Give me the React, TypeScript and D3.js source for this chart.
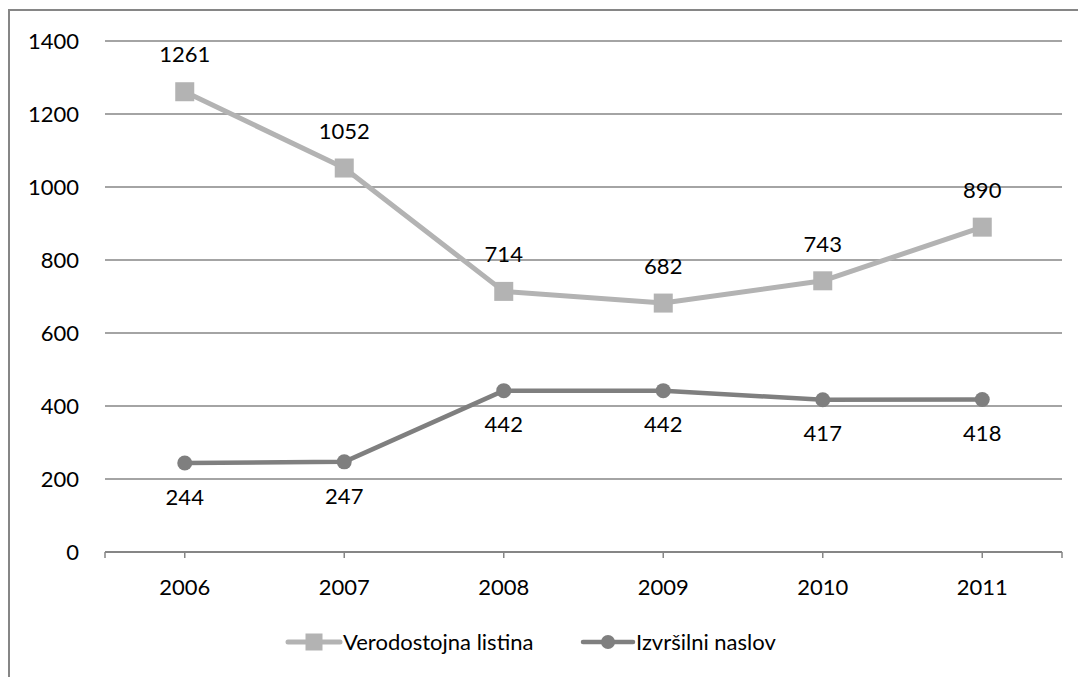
import React from "react";
import * as d3 from "d3";

const years = ["2006", "2007", "2008", "2009", "2010", "2011"];
const verodostojna = [1261, 1052, 714, 682, 743, 890];
const izvrsilni = [244, 247, 442, 442, 417, 418];
const yTicks = [0, 200, 400, 600, 800, 1000, 1200, 1400];
const seriesNames = ["Verodostojna listina", "Izvršilni naslov"];

const W = 1078;
const H = 677;
const FONT = "Lato, 'Open Sans', sans-serif";
const FS = 22;
const LIGHT = "#b3b3b3";
const DARK = "#7f7f7f";
const GRID = "#868686";

export default function App() {
  const left = 105, right = 1062, top = 41, bottom = 552;
  const x = d3.scaleBand<string>().domain(years).range([left, right]).padding(0);
  const y = d3.scaleLinear().domain([0, 1400]).range([bottom, top]);
  const cx = (yr: string) => (x(yr) as number) + x.bandwidth() / 2;
  const line = d3
    .line<number>()
    .x((_, i) => cx(years[i]))
    .y((v) => y(v));

  const tickXs = [left, ...years.map(cx), right];
  const sq = 19;

  return (
    <svg width={W} height={H} style={{ position: "absolute", left: 0, top: 0, background: "#fff" }}>
      <rect x={9} y={10} width={W + 10} height={H + 10} fill="#fff" stroke={GRID} strokeWidth={2} />
      {yTicks.map((t) => (
        <g key={t}>
          <line x1={left} x2={right} y1={y(t)} y2={y(t)} stroke={GRID} strokeWidth={t === 0 ? 2 : 1.5} />
          <text x={79} y={y(t)} dy="0.35em" textAnchor="end" fontFamily={FONT} fontSize={FS} fill="#000">
            {t}
          </text>
        </g>
      ))}
      {tickXs.map((tx, i) => (
        <line key={i} x1={tx} x2={tx} y1={bottom} y2={bottom + 6} stroke={GRID} strokeWidth={1.5} />
      ))}
      {years.map((yr) => (
        <text key={yr} x={cx(yr)} y={587} dy="0.35em" textAnchor="middle" fontFamily={FONT} fontSize={FS} fill="#000">
          {yr}
        </text>
      ))}

      <path d={line(verodostojna) || ""} fill="none" stroke={LIGHT} strokeWidth={5} strokeLinejoin="round" />
      {verodostojna.map((v, i) => (
        <rect key={i} x={cx(years[i]) - sq / 2} y={y(v) - sq / 2} width={sq} height={sq} fill={LIGHT} />
      ))}
      {verodostojna.map((v, i) => (
        <text key={i} x={cx(years[i])} y={y(v) - 37} dy="0.35em" textAnchor="middle" fontFamily={FONT} fontSize={FS} fill="#000">
          {v}
        </text>
      ))}

      <path d={line(izvrsilni) || ""} fill="none" stroke={DARK} strokeWidth={4.5} strokeLinejoin="round" />
      {izvrsilni.map((v, i) => (
        <circle key={i} cx={cx(years[i])} cy={y(v)} r={7.5} fill={DARK} />
      ))}
      {izvrsilni.map((v, i) => (
        <text key={i} x={cx(years[i])} y={y(v) + 34} dy="0.35em" textAnchor="middle" fontFamily={FONT} fontSize={FS} fill="#000">
          {v}
        </text>
      ))}

      <g>
        <line x1={288} x2={340} y1={642} y2={642} stroke={LIGHT} strokeWidth={5} strokeLinecap="round" />
        <rect x={314 - 8.5} y={642 - 8.5} width={17} height={17} fill={LIGHT} />
        <text x={343} y={642} dy="0.35em" fontFamily={FONT} fontSize={FS} fill="#000">
          {seriesNames[0]}
        </text>
        <line x1={583} x2={633} y1={642} y2={642} stroke={DARK} strokeWidth={4.5} strokeLinecap="round" />
        <circle cx={608} cy={642} r={7} fill={DARK} />
        <text x={636} y={642} dy="0.35em" fontFamily={FONT} fontSize={FS} fill="#000">
          {seriesNames[1]}
        </text>
      </g>
    </svg>
  );
}
